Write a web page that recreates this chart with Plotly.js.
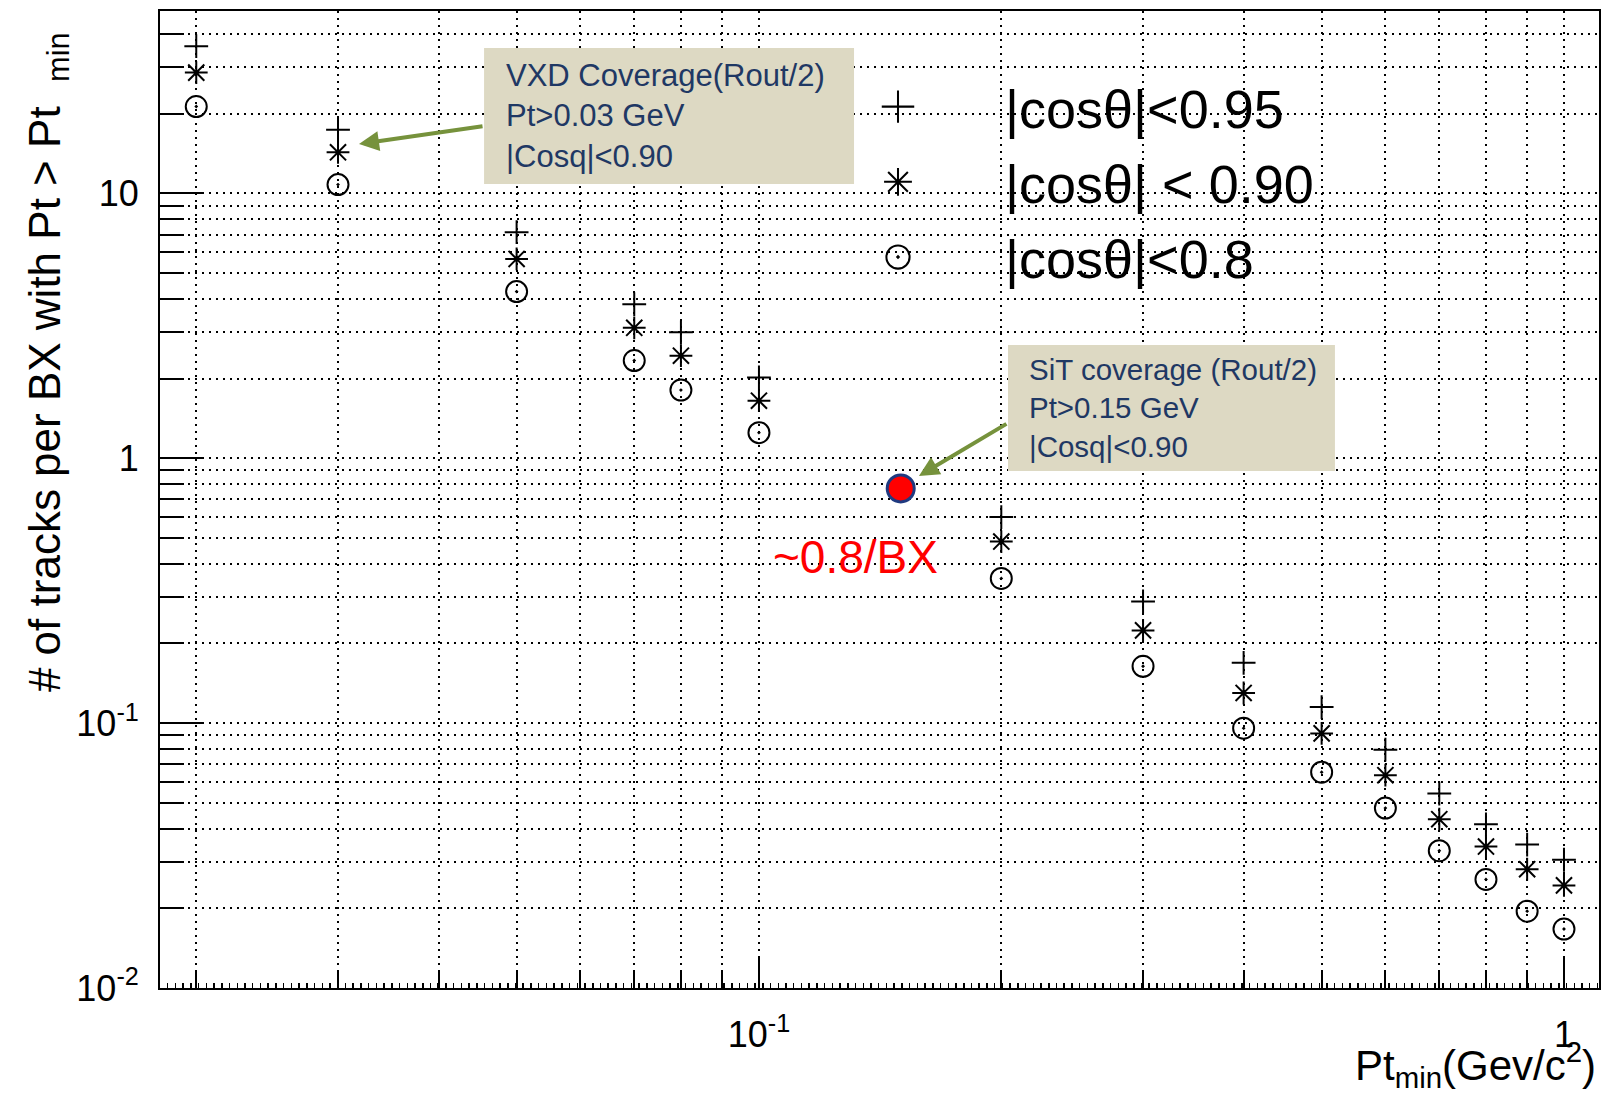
<!DOCTYPE html>
<html>
<head>
<meta charset="utf-8">
<script src="https://cdn.plot.ly/plotly-3.0.1.min.js"></script>
<style>
html,body{margin:0;padding:0;background:#fff;}
#chart{width:1601px;height:1098px;}
</style>
</head>
<body>
<div id="chart"></div>
<script>
// ---- data ----
const ptMin   = [0.02, 0.03, 0.05, 0.07, 0.08, 0.1, 0.2, 0.3, 0.4, 0.5, 0.6, 0.7, 0.8, 0.9, 1.0];
const cos095  = [36.0, 17.4, 7.14, 3.82, 2.99, 2.02, 0.600, 0.288, 0.169, 0.115, 0.0794, 0.0542, 0.0415, 0.0348, 0.0305];
const cos090  = [28.6, 14.3, 5.66, 3.11, 2.44, 1.65, 0.485, 0.224, 0.130, 0.0915, 0.0636, 0.0434, 0.0342, 0.0281, 0.0244];
const cos080  = [21.3, 10.8, 4.26, 2.34, 1.81, 1.25, 0.352, 0.164, 0.0957, 0.0653, 0.0478, 0.0330, 0.0257, 0.0195, 0.0167];
const sitX    = [0.15];
const sitY    = [0.77];
const seriesNames = ['|cosθ|<0.95', '|cosθ| < 0.90', '|cosθ|<0.8'];

const xMajorVals = [0.1, 1];
const xMajorText = ['10<sup>-1</sup>', '1'];
const xMinorVals = [0.02,0.03,0.04,0.05,0.06,0.07,0.08,0.09,0.2,0.3,0.4,0.5,0.6,0.7,0.8,0.9];
const yMajorVals = [0.01, 0.1, 1, 10];
const yMajorText = ['10<sup>-2</sup>', '10<sup>-1</sup>', '1', '10'];
const yMinorVals = [0.02,0.03,0.04,0.05,0.06,0.07,0.08,0.09,
                    0.2,0.3,0.4,0.5,0.6,0.7,0.8,0.9,
                    2,3,4,5,6,7,8,9,20,30,40];

const xRange = [-1.744, 0.0435];
const yRange = [-2, 1.689];

// fine (tertiary) tick positions along the x axis, evenly spaced in log
const fineStep = 0.0096;
const xFineVals = [];
for (let v = xRange[0] + fineStep; v < xRange[1]; v += fineStep) xFineVals.push(Math.pow(10, v));

const FONT = 'Liberation Sans, Arial, Helvetica, sans-serif';
const NAVY = '#1f3864';
const TAN = '#ddd9c3';
const OLIVE = '#76923c';

const traces = [
  {x: ptMin, y: cos095, name: seriesNames[0], mode: 'markers', type: 'scatter',
   legendgroup: 'a',
   marker: {symbol: 'cross-thin-open', size: 17, color: '#000', line: {color: '#000', width: 2}}},
  {x: ptMin, y: cos090, name: seriesNames[1], mode: 'markers', type: 'scatter',
   legendgroup: 'b',
   marker: {symbol: 'asterisk-open', size: 19, color: '#000', line: {color: '#000', width: 2}}},
  {x: ptMin, y: cos080, name: seriesNames[2], mode: 'markers', type: 'scatter',
   legendgroup: 'c',
   marker: {symbol: 'circle-open-dot', size: 21, color: '#000', line: {color: '#000', width: 2}}},
  {x: sitX, y: sitY, name: 'SiT', mode: 'markers', type: 'scatter', showlegend: false,
   marker: {symbol: 'circle', size: 27, color: '#ff0000', line: {color: '#1f3a80', width: 3}}},
  {x: [], y: [], xaxis: 'x2', yaxis: 'y', showlegend: false, hoverinfo: 'skip', mode: 'markers', type: 'scatter'}
];

const gridStyle = {gridcolor: '#000', gridwidth: 2, griddash: '2px,5px'};

const layout = {
  width: 1601, height: 1098,
  margin: {l: 160, r: 2, t: 11, b: 110},
  paper_bgcolor: '#fff', plot_bgcolor: '#fff',
  font: {family: FONT, color: '#000'},
  showlegend: true,
  legend: {
    x: 0.4385, y: 0.9447, xanchor: 'left', yanchor: 'top',
    bgcolor: 'rgba(0,0,0,0)', borderwidth: 0,
    font: {size: 54, family: FONT, color: '#000'},
    itemwidth: 204, tracegroupgap: 2
  },
  xaxis: {
    type: 'log', range: xRange,
    tickmode: 'array', tickvals: xMajorVals, ticktext: xMajorText,
    ticks: 'inside', ticklen: 30, tickwidth: 2, tickcolor: '#000',
    tickfont: {size: 36, family: FONT, color: '#000'},
    ticklabelstandoff: 14,
    showline: true, linecolor: '#000', linewidth: 2, mirror: true,
    showgrid: true, ...gridStyle,
    zeroline: false,
    minor: {tickmode: 'array', tickvals: xMinorVals, ticks: 'inside', ticklen: 16, tickwidth: 2,
            tickcolor: '#000', showgrid: true, ...gridStyle}
  },
  xaxis2: {
    type: 'log', range: xRange, overlaying: 'x', anchor: 'y', side: 'bottom',
    tickmode: 'array', tickvals: xFineVals, ticks: 'inside', ticklen: 5, tickwidth: 1.5,
    tickcolor: '#000', showticklabels: false, showgrid: false, showline: false, zeroline: false
  },
  yaxis: {
    type: 'log', range: yRange,
    tickmode: 'array', tickvals: yMajorVals, ticktext: yMajorText,
    ticks: 'inside', ticklen: 42, tickwidth: 2, tickcolor: '#000',
    tickfont: {size: 36, family: FONT, color: '#000'},
    ticklabelstandoff: 12,
    showline: true, linecolor: '#000', linewidth: 2, mirror: true,
    showgrid: true, ...gridStyle,
    zeroline: false,
    minor: {tickmode: 'array', tickvals: yMinorVals, ticks: 'inside', ticklen: 24, tickwidth: 2,
            tickcolor: '#000', showgrid: true, ...gridStyle}
  },
  shapes: [
    {type: 'rect', xref: 'paper', yref: 'paper', x0: 0.2252, x1: 0.4823, y0: 0.8229, y1: 0.9621,
     fillcolor: TAN, line: {width: 0}, layer: 'above'},
    {type: 'rect', xref: 'paper', yref: 'paper', x0: 0.5893, x1: 0.8165, y0: 0.5292, y1: 0.6581,
     fillcolor: TAN, line: {width: 0}, layer: 'above'}
  ],
  annotations: [
    // y-axis title
    {xref: 'paper', yref: 'paper', x: -0.0778, y: 0.6407, xanchor: 'center', yanchor: 'middle',
     textangle: -90, showarrow: false,
     text: '# of tracks per BX with Pt &gt; Pt&nbsp;&nbsp;<sub>min</sub>',
     font: {size: 44, family: FONT, color: '#000'}},
    // x-axis title
    {xref: 'paper', yref: 'paper', x: 0.9995, y: -0.078, xanchor: 'right', yanchor: 'middle',
     showarrow: false,
     text: 'Pt<sub>min</sub>(Gev/c<sup>2</sup>)',
     font: {size: 42, family: FONT, color: '#000'}},
    // VXD box text
    {xref: 'paper', yref: 'paper', x: 0.2391, y: 0.8925, xanchor: 'left', yanchor: 'middle',
     showarrow: false, align: 'left',
     text: 'VXD Coverage(Rout/2)<br>Pt&gt;0.03 GeV<br>|Cosq|&lt;0.90',
     font: {size: 31, family: FONT, color: NAVY}},
    // VXD arrow
    {xref: 'paper', yref: 'paper', x: 0.1383, y: 0.8639, ax: 125, ay: -18,
     text: '', showarrow: true, arrowhead: 2, arrowsize: 1, arrowwidth: 4, arrowcolor: OLIVE,
     standoff: 0, startstandoff: 0},
    // SiT box text
    {xref: 'paper', yref: 'paper', x: 0.6025, y: 0.5937, xanchor: 'left', yanchor: 'middle',
     showarrow: false, align: 'left',
     text: 'SiT coverage (Rout/2)<br>Pt&gt;0.15 GeV<br>|Cosq|&lt;0.90',
     font: {size: 29.5, family: FONT, color: NAVY}},
    // SiT arrow
    {xref: 'paper', yref: 'paper', x: 0.5274, y: 0.5241, ax: 89, ay: -53,
     text: '', showarrow: true, arrowhead: 2, arrowsize: 1, arrowwidth: 4, arrowcolor: OLIVE,
     standoff: 0, startstandoff: 0},
    // red label
    {xref: 'paper', yref: 'paper', x: 0.483, y: 0.4412, xanchor: 'center', yanchor: 'middle',
     showarrow: false, text: '~0.8/BX',
     font: {size: 46, family: FONT, color: '#ff0000'}}
  ]
};

Plotly.newPlot('chart', traces, layout, {displayModeBar: false, staticPlot: true}).then(function () {
  // enlarge the legend symbols to match the size of the plotted markers
  document.querySelectorAll('.legend .legendpoints path.scatterpts').forEach(function (p) {
    const t = p.getAttribute('transform') || '';
    p.setAttribute('transform', t + ' scale(1.45)');
    p.style.strokeWidth = '1.4px';
  });
});
</script>
</body>
</html>
